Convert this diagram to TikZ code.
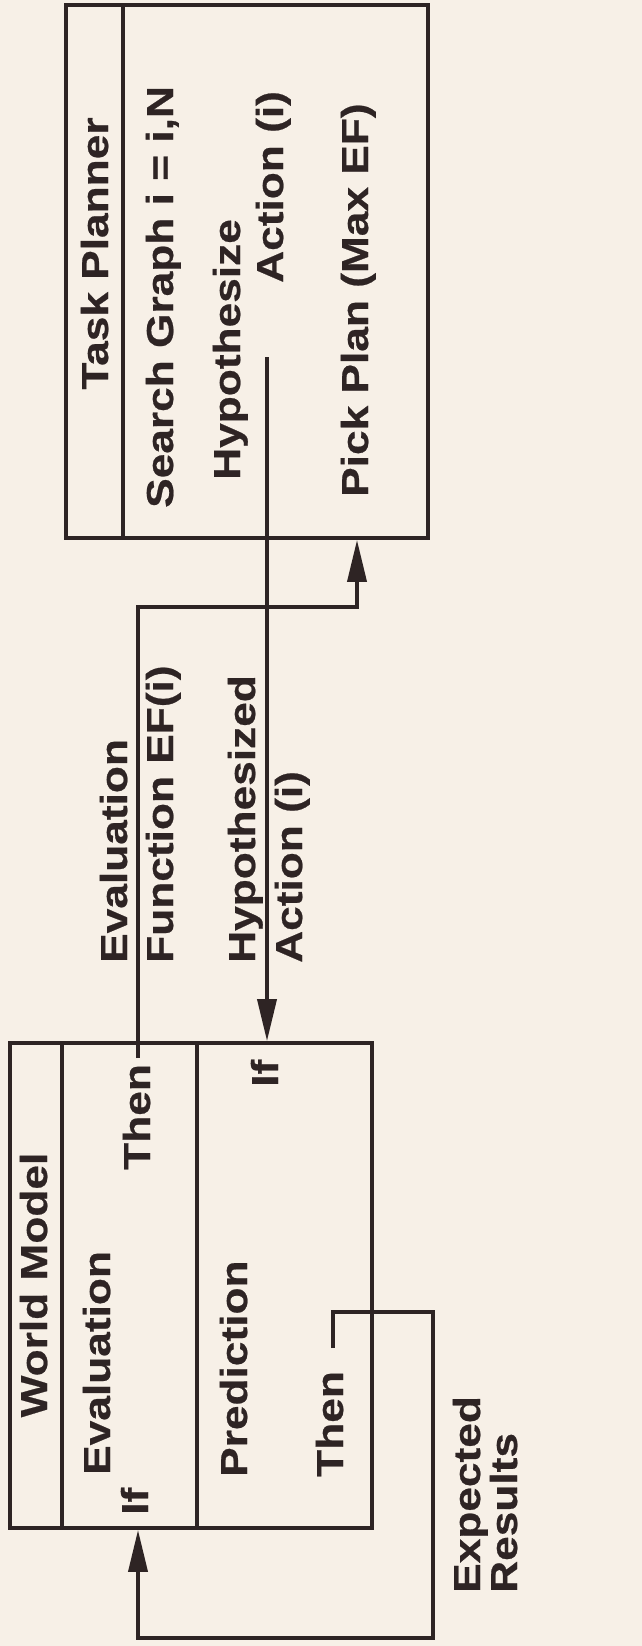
\documentclass[tikz,border=0pt]{standalone}
\usepackage{fontspec}
\newfontfamily\lbl{Liberation Sans}[FakeStretch=1.18, BoldFeatures={FakeBold=0.6}]
\usetikzlibrary{arrows.meta}
\definecolor{paper}{RGB}{247,240,231}
\definecolor{ink}{RGB}{46,36,36}
\tikzset{
  box/.style={draw=ink, line width=3.8pt, rectangle, inner sep=0pt},
  sep/.style={draw=ink, line width=3.8pt},
  conn/.style={draw=ink, line width=3.8pt},
  arr/.style={conn, -{Triangle[length=42pt,width=19pt]}},
  txt/.style={rotate=90, inner sep=0pt, anchor=base west, text=ink,
              font=\lbl\bfseries\fontsize{37.5}{47}\selectfont},
  ctxt/.style={txt, anchor=base}
}
\begin{document}
\begin{tikzpicture}[x=1pt,y=-1pt]
\fill[paper] (0,0) rectangle (642,1646);
\useasboundingbox (0,0) rectangle (642,1646);
% boxes
\node[box, minimum width=362pt, minimum height=533pt] (tp) at (247,271.5) {};
\node[box, minimum width=362pt, minimum height=485pt] (wm) at (191,1285.5) {};
% dividers
\draw[sep] (123,0 |- tp.north) -- (123,0 |- tp.south);
\draw[sep] (62,0 |- wm.north) -- (62,0 |- wm.south);
\draw[sep] (197,0 |- wm.north) -- (197,0 |- wm.south);
% task planner texts
\node[ctxt] (tpt) at (108,253.5) {Task Planner};
\node[txt] (sg) at (173,508) {Search Graph i = i,N};
\node[txt] (hyp) at (240,480) {Hypothesize};
\node[txt] (act) at (283,283) {Action (i)};
\node[txt] (pp) at (368,497) {Pick Plan (Max EF)};
% labels between
\node[txt] (el1) at (127,963) {Evaluation};
\node[txt] (el2) at (173,963) {Function EF(i)};
\node[txt] (hl1) at (255,963) {Hypothesized};
\node[txt] (hl2) at (302,963) {Action (i)};
% world model texts
\node[ctxt] (wmt) at (47,1285) {World Model};
\node[txt] (ev) at (110,1475) {Evaluation};
\node[txt] (if1) at (148,1515) {If};
\node[txt] (th1) at (150,1170) {Then};
\node[txt] (pr) at (247,1477) {Prediction};
\node[txt] (if2) at (278,1087) {If};
\node[txt] (th2) at (343,1477) {Then};
\node[txt] (ex1) at (480,1593) {Expected};
\node[txt] (ex2) at (517,1593) {Results};
% connector coordinates
\coordinate (hs) at (267,357);
\coordinate (efs) at (138,1058);
\coordinate (efc) at (357,607);
\coordinate (ers) at (333,1348);
\coordinate (erc1) at (433,1312);
\coordinate (erc2) at (138,1638);
% connectors
\draw[arr] (hs) -- (hs |- wm.north);
\draw[arr] (efs) |- (efc) -- (efc |- tp.south);
\draw[arr] (ers) |- (erc1) |- (erc2) -- (erc2 |- wm.south);
\end{tikzpicture}
\end{document}
